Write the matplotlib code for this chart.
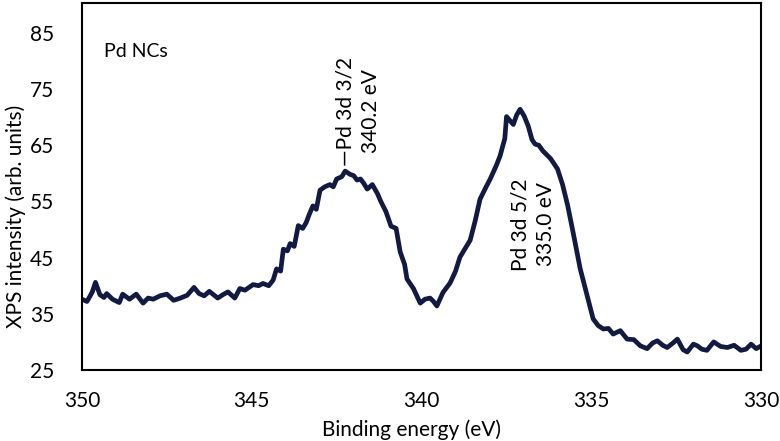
import numpy as np
import matplotlib
matplotlib.use("Agg")
import matplotlib.pyplot as plt

plt.rcParams["font.family"] = ["Lato", "DejaVu Sans"]

# binding energy (eV) and intensity
energy = [350.0, 349.85, 349.7, 349.6, 349.47, 349.35, 349.27, 349.1, 348.9, 348.8,
          348.6, 348.4, 348.2, 348.05, 347.9, 347.7, 347.5, 347.3, 347.1, 346.9,
          346.7, 346.55, 346.4, 346.25, 346.0, 345.85, 345.7, 345.5, 345.35, 345.2,
          344.96, 344.8, 344.67, 344.5, 344.37, 344.27, 344.15, 344.07, 343.95, 343.87,
          343.75, 343.63, 343.5, 343.4, 343.3, 343.2, 343.1, 342.99, 342.85, 342.7,
          342.6, 342.5, 342.35, 342.25, 342.1, 342.0, 341.9, 341.8, 341.7, 341.6,
          341.45, 341.3, 341.2, 341.05, 340.9, 340.75, 340.63, 340.5, 340.43, 340.24,
          340.04, 339.9, 339.75, 339.65, 339.55, 339.37, 339.16, 339.0, 338.87, 338.7,
          338.57, 338.42, 338.28, 338.1, 337.98, 337.8, 337.69, 337.55, 337.5, 337.4,
          337.3, 337.2, 337.1, 336.98, 336.86, 336.75, 336.66, 336.55, 336.43, 336.2,
          336.0, 335.85, 335.7, 335.54, 335.33, 335.1, 334.95, 334.8, 334.65, 334.5,
          334.36, 334.15, 333.95, 333.75, 333.56, 333.36, 333.2, 333.06, 332.9, 332.77,
          332.6, 332.47, 332.3, 332.18, 332.0, 331.88, 331.75, 331.6, 331.4, 331.2,
          331.0, 330.8, 330.6, 330.45, 330.3, 330.15, 330.0]
intensity = [37.6, 37.2, 38.8, 40.6, 38.4, 37.9, 38.6, 37.6, 37.0, 38.5,
             37.6, 38.5, 36.9, 37.8, 37.6, 38.2, 38.5, 37.4, 37.8, 38.3,
             39.7, 38.6, 38.2, 39.0, 37.8, 38.4, 38.9, 37.8, 39.5, 39.2,
             40.2, 40.0, 40.4, 40.0, 41.0, 43.0, 42.6, 46.5, 46.2, 47.5,
             47.0, 50.7, 50.2, 51.2, 52.8, 54.2, 53.6, 57.0, 57.6, 58.0,
             57.6, 59.0, 59.4, 60.4, 59.8, 59.6, 58.8, 59.0, 58.2, 57.2,
             58.0, 56.4, 55.0, 53.2, 50.6, 50.2, 46.0, 43.8, 41.2, 39.5,
             36.9, 37.6, 37.8, 37.2, 36.4, 38.8, 40.5, 42.6, 45.1, 46.8,
             48.1, 51.6, 55.4, 57.6, 59.0, 61.4, 63.1, 66.2, 70.1, 69.4,
             68.7, 70.4, 71.4, 70.2, 68.4, 66.0, 65.2, 65.0, 64.0, 62.6,
             60.8, 58.0, 54.3, 49.5, 43.0, 37.6, 34.1, 32.9, 32.3, 32.4,
             31.4, 32.0, 30.5, 30.4, 29.3, 28.8, 29.8, 30.2, 29.4, 29.0,
             29.8, 30.5, 28.6, 28.2, 29.6, 29.3, 28.7, 28.5, 30.0, 29.2,
             29.0, 29.4, 28.5, 28.7, 29.6, 28.8, 29.3]

xticks = [350, 345, 340, 335, 330]
yticks = [25, 35, 45, 55, 65, 75, 85]

fig = plt.figure(figsize=(7.8, 4.41), dpi=100)
ax = fig.add_axes([0.105, 0.161, 0.871, 0.832])

ax.plot(energy, intensity, color="#121a42", lw=3.4, solid_joinstyle="round")

ax.set_xlim(350, 330)
ax.set_ylim(25, 90.3)
ax.set_xticks(xticks)
ax.set_yticks(yticks)
ax.tick_params(length=0, labelsize=15)
ax.tick_params(axis="x", pad=15)
ax.tick_params(axis="y", pad=20)

for s in ax.spines.values():
    s.set_linewidth(1.5)
    s.set_color("black")

ax.set_xlabel("Binding energy (eV)", fontsize=15)
ax.set_ylabel("XPS intensity (arb. units)", fontsize=15)
ax.xaxis.set_label_coords(0.485, -0.135)
ax.yaxis.set_label_coords(-0.082, 0.42)

ax.text(349.35, 81.6, "Pd NCs", fontsize=14, va="center", ha="left")
ax.text(341.87, 71.1, "\u2014Pd 3d 3/2\n340.2 eV", rotation=90, fontsize=15,
        ha="center", va="center", multialignment="center", linespacing=1.35)
ax.text(336.72, 50.9, "Pd 3d 5/2\n335.0 eV", rotation=90, fontsize=15,
        ha="center", va="center", multialignment="center", linespacing=1.35)

fig.savefig("out.png", dpi=100)
